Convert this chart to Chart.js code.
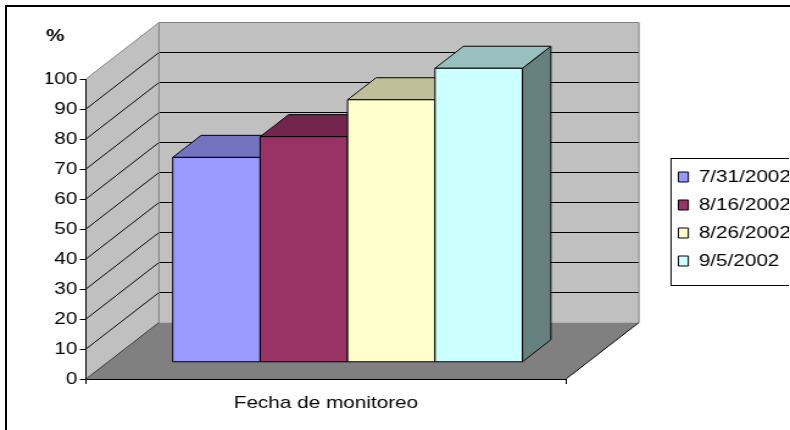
<!DOCTYPE html>
<html>
<head>
<meta charset="utf-8">
<script src="https://cdn.jsdelivr.net/npm/chart.js@4.4.0/dist/chart.umd.min.js"></script>
<style>
  html, body { margin: 0; padding: 0; background: #fff; overflow: hidden; }
  #frame { position: absolute; left: 5px; top: 5px; width: 900px; height: 500px;
           border-top: 2px solid #000; border-left: 2px solid #000; }
  /* the original picture is stretched sideways, so the canvas is too */
  #wrap { position: absolute; left: 0; top: 0; width: 647px; height: 430px;
          transform: scaleX(1.2191); transform-origin: 0 0; }
</style>
</head>
<body>
<div id="frame"></div>
<div id="wrap"><canvas id="chart" width="647" height="430"></canvas></div>
<script>
const categories = ['Fecha de monitoreo'];
const seriesLabels = ['7/31/2002', '8/16/2002', '8/26/2002', '9/5/2002'];
const seriesValues = [68.3, 75.2, 87.5, 98];
const seriesColors = ['#9999FF', '#993366', '#FFFFCC', '#CCFFFF'];
const yMin = 0, yMax = 100, yStep = 10;
const unitLabel = '%';

Chart.defaults.font.family = "'Liberation Sans', Arial, sans-serif";
Chart.defaults.font.size = 17;
Chart.defaults.color = '#000';

// 3d look: depth of the walls and where the bars sit in it
const depth = { dx: 59.9, dy: -56.5 };
const barFront = 0.296;
const barDepth = 0.39;

function shade(hex, k) {
  const n = parseInt(hex.slice(1), 16);
  const r = Math.round(((n >> 16) & 255) * k);
  const g = Math.round(((n >> 8) & 255) * k);
  const b = Math.round((n & 255) * k);
  return 'rgb(' + r + ',' + g + ',' + b + ')';
}

function poly(ctx, pts, fill, stroke) {
  ctx.beginPath();
  pts.forEach((p, i) => i ? ctx.lineTo(p[0], p[1]) : ctx.moveTo(p[0], p[1]));
  ctx.closePath();
  if (fill) { ctx.fillStyle = fill; ctx.fill(); }
  if (stroke) { ctx.strokeStyle = stroke; ctx.stroke(); }
}

function line(ctx, pts, color) {
  ctx.beginPath();
  pts.forEach((p, i) => i ? ctx.lineTo(p[0], p[1]) : ctx.moveTo(p[0], p[1]));
  ctx.strokeStyle = color;
  ctx.stroke();
}

const box3d = {
  id: 'box3d',
  beforeDraw(chart) {
    const { ctx, chartArea: a, scales: { y } } = chart;
    const top = y.getPixelForValue(y.max);
    const bottom = y.getPixelForValue(y.min);
    const dx = depth.dx, dy = depth.dy;
    const L = a.left, R = a.right;
    ctx.save();
    ctx.lineWidth = 1;
    // walls
    poly(ctx, [[L, top], [L + dx, top + dy], [L + dx, bottom + dy], [L, bottom]], '#C0C0C0');
    poly(ctx, [[L + dx, top + dy], [R + dx, top + dy], [R + dx, bottom + dy], [L + dx, bottom + dy]], '#C0C0C0');
    // floor
    poly(ctx, [[L, bottom], [R, bottom], [R + dx, bottom + dy], [L + dx, bottom + dy]], '#808080');
    // grid lines on both walls
    y.ticks.forEach(t => {
      if (t.value <= y.min || t.value >= y.max) return;
      const py = y.getPixelForValue(t.value);
      line(ctx, [[L, py], [L + dx, py + dy], [R + dx, py + dy]], '#000');
    });
    // wall edges
    line(ctx, [[L, top], [L + dx, top + dy], [R + dx, top + dy], [R + dx, bottom + dy]], '#808080');
    line(ctx, [[L + dx, top + dy], [L + dx, bottom + dy]], '#808080');
    line(ctx, [[L, bottom], [L + dx, bottom + dy]], '#333');
    line(ctx, [[R, bottom], [R + dx, bottom + dy]], '#000');
    ctx.restore();
  },
  beforeDatasetsDraw(chart) {
    const ctx = chart.ctx;
    const ox = depth.dx * barFront, oy = depth.dy * barFront;
    const bx = depth.dx * barDepth, by = depth.dy * barDepth;
    const bars = [];
    chart.data.datasets.forEach((ds, i) => {
      if (!chart.isDatasetVisible(i)) return;
      chart.getDatasetMeta(i).data.forEach(el => {
        const p = el.getProps(['x', 'y', 'base', 'width'], true);
        bars.push({
          l: p.x - p.width / 2 + ox, r: p.x + p.width / 2 + ox,
          t: Math.min(p.y, p.base) + oy, b: Math.max(p.y, p.base) + oy,
          color: ds.backgroundColor
        });
      });
    });
    bars.sort((m, n) => m.l - n.l);
    ctx.save();
    ctx.lineWidth = 1;
    bars.forEach(b => {
      poly(ctx, [[b.r, b.t], [b.r + bx, b.t + by], [b.r + bx, b.b + by], [b.r, b.b]], shade(b.color, 0.5), '#000');
      poly(ctx, [[b.l, b.t], [b.l + bx, b.t + by], [b.r + bx, b.t + by], [b.r, b.t]], shade(b.color, 0.75), '#000');
      poly(ctx, [[b.l, b.t], [b.r, b.t], [b.r, b.b], [b.l, b.b]], b.color, '#000');
    });
    ctx.restore();
    return false;
  },
  afterDraw(chart) {
    // frame round the legend
    const lg = chart.legend;
    const hb = lg.legendHitBoxes;
    if (!hb || !hb.length) return;
    const last = hb[hb.length - 1];
    const top = hb[0].top - 10;
    const bottom = last.top + last.height + 16;
    const ctx = chart.ctx;
    ctx.save();
    ctx.lineWidth = 1;
    ctx.strokeStyle = '#000';
    ctx.strokeRect(lg.left + 5, top, lg.width + 20, bottom - top);
    ctx.restore();
  }
};

const chart = new Chart(document.getElementById('chart'), {
  type: 'bar',
  data: {
    labels: categories,
    datasets: seriesLabels.map((label, i) => ({
      label: label,
      data: [seriesValues[i]],
      backgroundColor: seriesColors[i],
      borderColor: '#000',
      borderWidth: 1
    }))
  },
  options: {
    responsive: false,
    animation: false,
    devicePixelRatio: 1,
    layout: { padding: { left: 37.7, top: 8, right: 0, bottom: 0 } },
    datasets: { bar: { categoryPercentage: 0.7285, barPercentage: 1 } },
    plugins: {
      title: {
        display: true,
        text: unitLabel,
        align: 'start',
        font: { size: 17, weight: 'bold' },
        padding: { top: 18.3, bottom: 32.3 }
      },
      legend: {
        position: 'right',
        align: 'center',
        labels: { boxWidth: 8.2, boxHeight: 10, padding: 11, color: '#000' }
      },
      tooltip: { enabled: false }
    },
    scales: {
      x: {
        grid: { drawOnChartArea: false, drawTicks: true, tickLength: 5, color: '#000' },
        border: { color: '#000' },
        ticks: { padding: 8.7, maxRotation: 0, autoSkip: false },
        afterFit: s => { s.height = 51; }
      },
      y: {
        min: yMin,
        max: yMax,
        ticks: { stepSize: yStep, padding: 2 },
        grid: { drawOnChartArea: false, drawTicks: true, tickLength: 5, color: '#000' },
        border: { color: '#000' },
        afterFit: s => { s.width = 32.8; }
      },
      gap: {
        type: 'linear',
        position: 'right',
        grid: { display: false },
        border: { display: false },
        ticks: { display: false },
        afterFit: s => { s.width = 81.2; }
      }
    }
  },
  plugins: [box3d]
});
</script>
</body>
</html>
